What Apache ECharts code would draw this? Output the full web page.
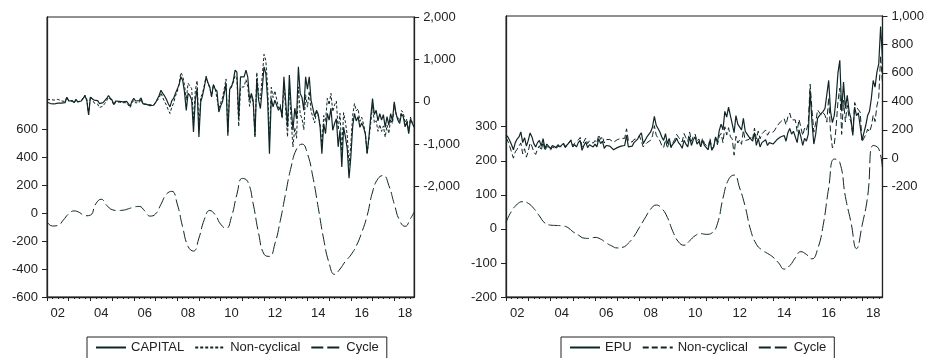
<!DOCTYPE html>
<html>
<head>
<meta charset="utf-8">
<script src="https://cdn.jsdelivr.net/npm/echarts@6/dist/echarts.min.js"></script>
<style>
html, body { margin: 0; padding: 0; background: #fff; }
#wrap { position: relative; width: 927px; height: 358px; }
#left { position: absolute; left: 0; top: 0; width: 463px; height: 358px; }
#right { position: absolute; left: 463px; top: 0; width: 464px; height: 358px; }
</style>
</head>
<body>
<div id="wrap"><div id="left"></div><div id="right"></div></div>
<script>
// monthly data 2002M01 - 2018M12, cycles read every quarter (+ last month)
var startYear = 2002;
var yearLabels = ['02', '04', '06', '08', '10', '12', '14', '16', '18'];

var capital = [
  -10, -20, -40, -30, -50, -20, -30, -10, -30, 0, -20, 110,
  20, -10, 30, -20, 60, 0, -30, 20, 80, 140, 40, -310,
  110, 100, 40, 0, 30, -40, -60, -20, 20, 80, 150, 90,
  40, -60, 20, 40, 10, 30, 0, 20, 10, -20, -100, 20,
  80, 20, -10, 30, 95, -40, -80, -60, -70, -90, -60, -80,
  -20, 20, 150, 275, 200, 140, 60, -40, -120, 30, 80, 200,
  300, 400, 590, 510, 240, -200, 200, 150, 40, -710, 40, 320,
  -826, 0, 150, 350, 590, 450, 350, 120, 400, 300, 250, -240,
  -100, 0, 200, 430, -800, 300, 350, 500, 750, 700, -390, 590,
  600, 590, 750, 590, 40, 200, 40, -826, 550, 40, -157, 300,
  826, 670, 40, -1220, 80, -120, 40, -80, -200, -120, -350, 590,
  590, -590, 630, -120, -670, -150, -400, 826, 200, 100, -200, 590,
  300, 590, 40, 80, -350, -200, -300, -590, -1220, -510, -750, -275,
  -430, -150, -670, -510, -400, -1060, -670, -1535, -600, -826, -1100, -1800,
  -1300, -590, -275, -450, -350, -600, -500, -600, -750, -1220, -826, -354,
  80, -300, -200, -450, -280, -430, -300, -600, -350, -550, -280, -450,
  0, -280, -430, -510, -280, -350, -590, -470, -750, -400, -510, -590
];
var capitalNC = [
  54, 58, 53, 63, 41, 69, 59, 60, 21, 51, 8, 116,
  26, -15, 15, -35, 51, -3, -33, 29, 100, 160, 58, -295,
  125, 75, -26, -66, -52, -138, -158, -97, -35, 25, 110, 66,
  16, -81, 2, 22, -9, 10, -20, -5, -20, -50, -136, -22,
  38, -25, -57, -17, 64, -55, -95, -56, -48, -68, -45, -73,
  -13, -8, 88, 213, 102, 6, -74, -185, -275, -125, -30, 135,
  235, 418, 690, 610, 410, 39, 439, 406, 312, -438, 266, 499,
  -647, 112, 196, 396, 604, 432, 332, 118, 413, 313, 296, -160,
  -20, 95, 310, 540, -731, 328, 378, 448, 617, 567, -580, 343,
  353, 355, 526, 366, -105, 134, -26, -786, 695, 185, 63, 594,
  1120, 972, 350, -910, 345, 100, 260, 58, -145, -65, -395, 446,
  446, -827, 300, -450, -1064, -607, -857, 351, -292, -392, -658, 166,
  -124, 249, -218, -178, -498, -237, -337, -515, -1032, -322, -476, 84,
  -71, 200, -232, -72, 19, -660, -270, -1163, -255, -481, -778, -1500,
  -1000, -322, -40, -215, -162, -460, -360, -520, -730, -1200, -891, -504,
  -70, -498, -445, -695, -536, -698, -568, -832, -547, -747, -411, -515,
  -65, -285, -375, -455, -205, -255, -495, -402, -710, -360, -495, -600
];
var capitalCycle = [
  -64, -93, -89, -51,  -6, 15, 3, -20,  -15, 66, 98, 55,  24, 18, 20, 30,
  42, 47, 15, -22,  -7, 62, 134, 155,  65, -100, -239, -272,  -179, -46, 18, -13,
  -80, -110, -28, 133,  247, 224, 66, -145,  -294, -310, -220, -55,  144, 330, 457, 492,
  424, 258, 37, -188,  -359, -438, -400, -345,  -300, -235, -140, -20,  150, 245, 268, 197,
  65, -55, -95, -40,  7
];

var epu = [
  165, 150, 125, 95, 60, 110, 135, 150, 185, 110, 145, 85,
  126, 178, 150, 103, 80, 110, 126, 85, 138, 68, 100, 95,
  68, 90, 100, 75, 95, 80, 90, 105, 80, 95, 103, 126,
  80, 95, 80, 110, 126, 56, 90, 115, 75, 95, 103, 80,
  100, 80, 138, 103, 120, 70, 90, 80, 85, 75, 60, 70,
  75, 80, 85, 78, 90, 161, 80, 90, 85, 110, 120, 135,
  161, 178, 103, 115, 150, 161, 185, 220, 295, 232, 220, 185,
  150, 126, 173, 103, 140, 80, 100, 115, 140, 110, 95, 70,
  126, 100, 80, 150, 90, 130, 150, 100, 120, 80, 126, 90,
  100, 60, 126, 56, 80, 150, 110, 196, 240, 200, 330, 290,
  360, 300, 290, 180, 300, 240, 250, 200, 280, 190, 170, 150,
  150, 120, 180, 90, 140, 80, 110, 100, 130, 90, 110, 120,
  100, 110, 130, 120, 150, 140, 160, 120, 180, 210, 170, 190,
  185, 110, 200, 150, 90, 140, 120, 170, 477, 250, 100, 170,
  280, 300, 290, 330, 350, 337, 547, 330, 250, 300, 420, 600,
  688, 330, 535, 350, 442, 330, 280, 161, 360, 300, 320, 313,
  126, 180, 232, 300, 330, 420, 547, 500, 606, 664, 926, 700
];
var epuNC = [
  146, 120, 84, 43, 1, 45, 63, 75, 108, 30, 67, 8,
  51, 108, 85, 43, 27, 65, 88, 54, 114, 51, 85, 82,
  57, 79, 90, 65, 85, 71, 81, 97, 74, 90, 102, 130,
  88, 106, 95, 128, 147, 80, 117, 142, 103, 123, 130, 106,
  125, 107, 166, 133, 154, 107, 131, 124, 132, 125, 112, 124,
  131, 135, 140, 132, 140, 207, 122, 125, 114, 132, 133, 139,
  156, 164, 80, 83, 109, 112, 127, 158, 229, 162, 153, 122,
  90, 75, 130, 69, 120, 74, 108, 133, 168, 148, 136, 115,
  174, 144, 119, 185, 120, 155, 170, 118, 136, 94, 141, 105,
  116, 75, 139, 68, 83, 144, 95, 156, 175, 110, 222, 163,
  215, 151, 136, 22, 155, 107, 130, 98, 197, 125, 128, 132,
  155, 138, 212, 135, 191, 136, 172, 165, 199, 162, 186, 199,
  183, 199, 224, 220, 256, 252, 278, 235, 291, 318, 270, 283,
  270, 189, 273, 217, 160, 212, 195, 249, 520, 338, 184, 249,
  340, 337, 303, 320, 303, 254, 427, 182, 73, 95, 218, 402,
  493, 168, 407, 255, 372, 285, 260, 167, 392, 358, 355, 325,
  116, 142, 165, 205, 185, 225, 302, 258, 368, 429, 722, 527
];
var epuCycle = [
  19, 52, 72, 80,  75, 60, 38, 17,  11, 10, 9, 5,  -8, -18, -27, -28,
  -25, -30, -41, -50,  -56, -54, -42, -22,  5, 32, 58, 70,  60, 34, -8, -38,
  -48, -35, -20, -14,  -16, -12, 15, 90,  145, 158, 120, 65,  -5, -45, -62, -72,
  -83, -100, -118, -108,  -85, -67, -75, -88,  -60, 10, 120, 205,  195, 95, 20, -58,
  10, 95, 245, 235,  173
];

var capitalTicksL = [-600, -400, -200, 0, 200, 400, 600];
var capitalTicksR = [-2000, -1000, 0, 1000, 2000];
var epuTicksL = [-200, -100, 0, 100, 200, 300];
var epuTicksR = [-200, 0, 200, 400, 600, 800, 1000];

var ink = '#102626';
var axisInk = '#222';
var font = "'Liberation Sans', Arial, sans-serif";
var lastMonth = capital.length - 1;
var xMax = startYear + lastMonth / 12;

function monthly(arr) {
  return arr.map(function (v, i) { return [startYear + i / 12, v]; });
}
function quarterly(arr) {
  return arr.map(function (v, i) { return [startYear + Math.min(i * 3, lastMonth) / 12, v]; });
}

var yearTicks = [], quarterTicks = [], labelPos = [];
for (var y = startYear; y <= xMax; y++) yearTicks.push(y);
for (var q = startYear; q <= xMax + 1e-6; q += 0.25) quarterTicks.push(q);
yearLabels.forEach(function (s) { labelPos.push(2000 + Number(s) + 0.5); });

function yAxisCfg(pos, min, max, ticks) {
  return {
    type: 'value', position: pos, min: min, max: max,
    splitLine: { show: false },
    axisLine: { show: true, onZero: false, lineStyle: { color: axisInk, width: 1.3 } },
    axisTick: { show: true, customValues: ticks, length: 5, lineStyle: { color: axisInk } },
    axisLabel: {
      customValues: ticks, margin: 9, color: axisInk, fontSize: 13, fontFamily: font,
      formatter: function (v) { return v.toLocaleString('en-US'); }
    }
  };
}

function makePanel(dom, p) {
  var chart = echarts.init(dom);
  var option = {
    animation: false,
    backgroundColor: '#fff',
    grid: { left: p.left, right: p.right, top: p.top, bottom: 61, show: true, borderColor: axisInk, borderWidth: 1 },
    legend: {
      left: p.legendLeft, top: 337,
      data: p.names,
      itemWidth: 30, itemHeight: 10, itemGap: 10,
      padding: [4, 8, 12, 8],
      borderColor: axisInk, borderWidth: 1,
      itemStyle: { opacity: 0 },
      textStyle: { fontSize: 13, color: axisInk, fontFamily: font }
    },
    xAxis: [{
      type: 'value', min: startYear, max: xMax, position: 'bottom',
      splitLine: { show: false },
      axisLine: { show: true, onZero: false, lineStyle: { color: axisInk, width: 1.3 } },
      axisTick: { show: true, customValues: yearTicks, length: 4, lineStyle: { color: axisInk } },
      axisLabel: {
        customValues: labelPos, margin: 10, color: axisInk, fontSize: 13, fontFamily: font,
        formatter: function (v) { return String(Math.floor(v)).slice(2); }
      }
    }, {
      type: 'value', min: startYear, max: xMax, position: 'bottom',
      splitLine: { show: false },
      axisLine: { show: false, onZero: false },
      axisTick: { show: true, customValues: quarterTicks, length: 2, lineStyle: { color: axisInk } },
      axisLabel: { show: false }
    }],
    yAxis: [
      yAxisCfg('left', p.lMin, p.lMax, p.lTicks),
      yAxisCfg('right', p.rMin, p.rMax, p.rTicks)
    ],
    series: [{
      name: p.names[0], type: 'line', yAxisIndex: 1, symbol: 'none', z: 4,
      lineStyle: { color: ink, width: 1.2 },
      itemStyle: { color: ink },
      data: monthly(p.actual)
    }, {
      name: p.names[1], type: 'line', yAxisIndex: 1, symbol: 'none', z: 3,
      lineStyle: { color: ink, width: 1, type: p.ncDash },
      itemStyle: { color: ink },
      data: monthly(p.nc)
    }, {
      name: p.names[2], type: 'line', yAxisIndex: 0, symbol: 'none', smooth: true, z: 2,
      lineStyle: { color: ink, width: 1, type: [12, 4] },
      itemStyle: { color: ink },
      data: quarterly(p.cycle)
    }]
  };
  chart.setOption(option);
  return chart;
}

var leftChart = makePanel(document.getElementById('left'), {
  left: 47, right: 41, top: 17, legendLeft: 87,
  names: ['CAPITAL', 'Non-cyclical', 'Cycle'],
  lMin: -600, lMax: 1400, lTicks: capitalTicksL,
  rMin: -4600, rMax: 2000, rTicks: capitalTicksR,
  actual: capital, nc: capitalNC, cycle: capitalCycle, ncDash: [3, 2]
});
var rightChart = makePanel(document.getElementById('right'), {
  left: 43, right: 43, top: 16, legendLeft: 98,
  names: ['EPU', 'Non-cyclical', 'Cycle'],
  lMin: -200, lMax: 625, lTicks: epuTicksL,
  rMin: -975, rMax: 1000, rTicks: epuTicksR,
  actual: epu, nc: epuNC, cycle: epuCycle, ncDash: [6, 3]
});

window.addEventListener('resize', function () {
  leftChart.resize();
  rightChart.resize();
});
</script>
</body>
</html>
